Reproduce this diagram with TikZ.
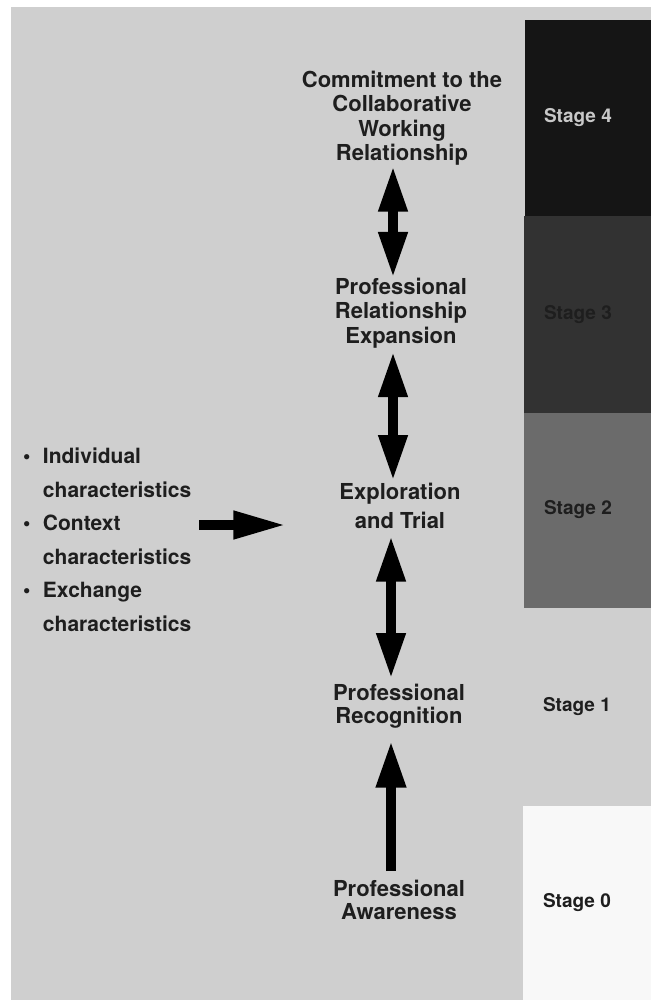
\documentclass[tikz,border=0pt]{standalone}
\usepackage{fontspec}
\setmainfont{TeX Gyre Heros}
\usetikzlibrary{arrows.meta}
\definecolor{bg}{HTML}{CFCFCF}
\definecolor{txt}{HTML}{1E1E1E}
\definecolor{sfour}{HTML}{151515}
\definecolor{sthree}{HTML}{323232}
\definecolor{stwo}{HTML}{6B6B6B}
\definecolor{szero}{HTML}{F8F8F8}
\definecolor{sfourtxt}{HTML}{C8C8C8}
\tikzset{
  lbl/.style={font=\fontsize{22}{24.5}\selectfont\bfseries, text=txt, align=center, inner sep=0pt, outer sep=0pt, anchor=north},
  stagelbl/.style={font=\fontsize{19}{22}\selectfont\bfseries, text=txt, inner sep=0pt, outer sep=0pt, anchor=west},
  dblarrow/.style={line width=10pt, draw=black, {Triangle[length=46pt,width=27pt]}-{Triangle[length=46pt,width=27pt]}},
  uparrow/.style={line width=10pt, draw=black, -{Triangle[length=47pt,width=28pt]}},
  rarrow/.style={line width=10pt, draw=black, -{Triangle[length=53pt,width=26pt]}}
}
\begin{document}
\begin{tikzpicture}[x=1pt,y=-1pt]
\useasboundingbox (0,0) rectangle (651,1000);
\fill[white] (0,0) rectangle (651,1000);
\fill[bg] (11,7) rectangle (651,1000);
% stage column
\fill[sfour] (525,20) rectangle (651,216);
\fill[sthree] (524,216) rectangle (651,413);
\fill[stwo] (524,413) rectangle (651,608);
\fill[szero] (523,806) rectangle (651,1000);
\node[stagelbl, text=sfourtxt] (s4) at (544,118) {Stage 4};
\node[stagelbl] (s3) at (544,315) {Stage 3};
\node[stagelbl] (s2) at (544,510) {Stage 2};
\node[stagelbl] (s1) at (543,707) {Stage 1};
\node[stagelbl] (s0) at (543,903) {Stage 0};
% central nodes
\node[lbl] (n1) at (402,71) {Commitment to the\\Collaborative\\Working\\Relationship};
\node[lbl] (n2) at (401,278) {Professional\\Relationship\\Expansion};
\node[lbl, font=\fontsize{22}{29}\selectfont\bfseries] (n3) at (400,483) {Exploration\\and Trial};
\node[lbl, font=\fontsize{22}{23.5}\selectfont\bfseries] (n4) at (399,684) {Professional\\Recognition};
\node[lbl, font=\fontsize{22}{23.5}\selectfont\bfseries] (n5) at (399,880) {Professional\\Awareness};
% list
\node[font=\fontsize{21}{33.5}\selectfont\bfseries, text=txt, align=left, inner sep=0pt, outer sep=0pt, anchor=north west] (list) at (23,448)
 {\makebox[20pt][l]{•}Individual\\\hspace*{20pt}characteristics\\\makebox[20pt][l]{•}Context\\\hspace*{20pt}characteristics\\\makebox[20pt][l]{•}Exchange\\\hspace*{20pt}characteristics};
% connectors
\coordinate (axa) at (393,0);
\coordinate (axb) at (391,0);
\coordinate (ay) at (0,525);
\draw[dblarrow, shorten <=0pt, shorten >=0pt] (n1.south -| axa) -- (n2.north -| axa);
\draw[dblarrow, shorten <=3pt, shorten >=2pt] (n2.south -| axa) -- (n3.north -| axa);
\draw[dblarrow, shorten <=7pt, shorten >=5pt] (n3.south -| axb) -- (n4.north -| axb);
\draw[uparrow, shorten <=9pt, shorten >=12pt] (n5.north -| axb) -- (n4.south -| axb);
\draw[rarrow, shorten <=8pt, shorten >=53pt] (list.east |- ay) -- (n3.west |- ay);
\end{tikzpicture}
\end{document}
